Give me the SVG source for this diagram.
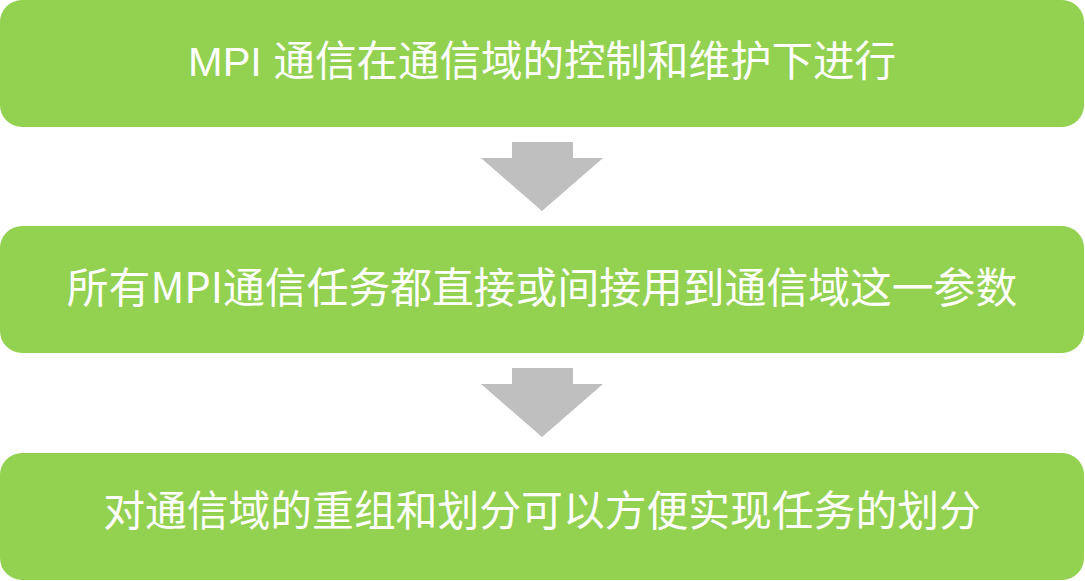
<svg xmlns="http://www.w3.org/2000/svg" width="1085" height="581" viewBox="0 0 1085 581">
<style>
.box{fill:#93D151;}
.arrow{fill:#BFBFBF;}
.t{fill:#FFFFFF;font-size:41.8px;font-family:"Noto Sans CJK SC","Noto Sans",sans-serif;text-anchor:middle;}
.t1{font-size:41.5px;font-family:"Liberation Sans","Noto Sans CJK SC",sans-serif;}
</style>
<rect width="1085" height="581" fill="#FFFFFF"/>
<g id="node1">
<rect class="box" x="0" y="0" width="1084" height="127" rx="22" ry="22"/>
<text class="t t1" x="542" y="76">MPI 通信在通信域的控制和维护下进行</text>
</g>
<g id="node2">
<rect class="box" x="0" y="226" width="1084" height="127" rx="22" ry="22"/>
<text class="t" x="542" y="303">所有MPI通信任务都直接或间接用到通信域这一参数</text>
</g>
<g id="node3">
<rect class="box" x="0" y="453" width="1084" height="127" rx="22" ry="22"/>
<text class="t" x="542" y="526">对通信域的重组和划分可以方便实现任务的划分</text>
</g>
<g id="connectors">
<polygon class="arrow" points="512,142 573,142 573,158 603,158 542,211 481,158 512,158"/>
<polygon class="arrow" points="512,368 573,368 573,384 603,384 542,437 481,384 512,384"/>
</g>
</svg>
